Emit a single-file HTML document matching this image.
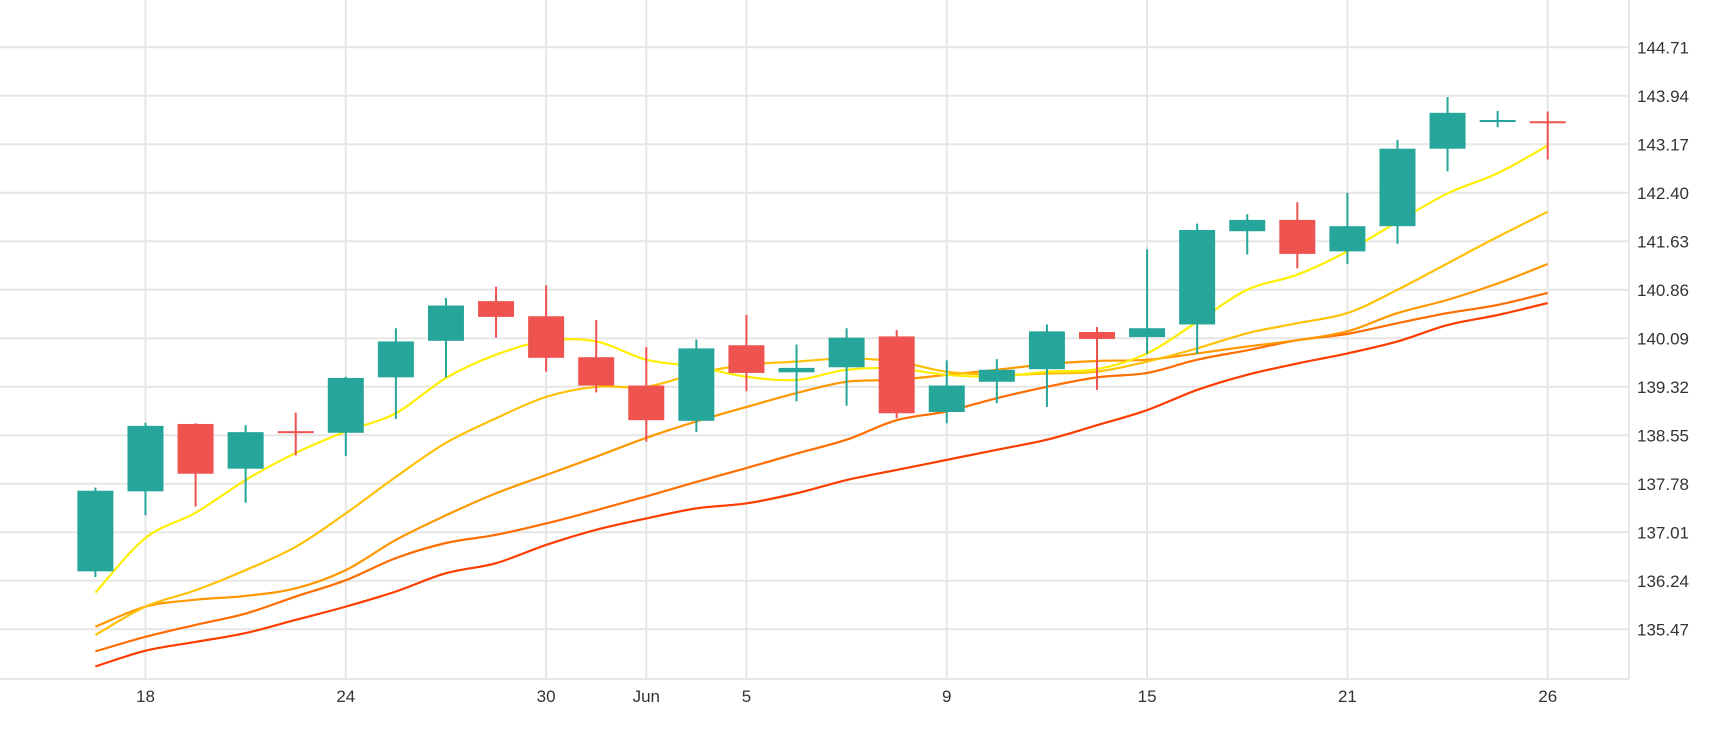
<!DOCTYPE html>
<html><head><meta charset="utf-8"><style>
html,body{margin:0;padding:0;background:#fff;}
svg{display:block;font-family:"Liberation Sans",sans-serif;}
</style></head><body>
<svg id="chart" width="1730" height="730" viewBox="0 0 1730 730" xmlns="http://www.w3.org/2000/svg">
<g id="grid"></g>
<g id="mas"></g>
<g id="candles"></g>
<g id="yaxis"></g>
<g id="xaxis"></g>
</svg>
<script>
const opens  = [136.39,137.66,138.73,138.02,138.60,138.59,139.47,140.05,140.68,140.44,139.79,139.34,138.78,139.98,139.55,139.63,140.12,138.92,139.40,139.60,140.19,140.11,140.31,141.79,141.97,141.47,141.87,143.10,143.53,143.52];
const closes = [137.67,138.70,137.94,138.60,138.59,139.46,140.04,140.61,140.43,139.78,139.34,138.79,139.93,139.54,139.62,140.10,138.90,139.34,139.59,140.20,140.08,140.25,141.81,141.97,141.43,141.87,143.10,143.67,143.54,143.51];
const highs  = [137.72,138.75,138.74,138.71,138.91,139.48,140.25,140.73,140.91,140.93,140.38,139.95,140.07,140.46,139.99,140.25,140.22,139.74,139.76,140.31,140.27,141.50,141.91,142.06,142.25,142.40,143.24,143.92,143.70,143.69];
const lows   = [136.30,137.28,137.42,137.48,138.23,138.22,138.81,139.47,140.10,139.56,139.23,138.45,138.60,139.25,139.09,139.02,138.82,138.74,139.06,139.00,139.27,139.84,139.84,141.42,141.20,141.27,141.59,142.74,143.44,142.93];
const ma1 = [136.05,136.92,137.32,137.84,138.27,138.61,138.90,139.46,139.83,140.05,140.04,139.75,139.64,139.48,139.43,139.59,139.61,139.51,139.48,139.56,139.60,139.85,140.35,140.86,141.10,141.47,141.94,142.39,142.71,143.15];
const ma2 = [135.38,135.83,136.09,136.41,136.78,137.31,137.89,138.43,138.82,139.16,139.32,139.32,139.53,139.67,139.72,139.77,139.72,139.56,139.51,139.53,139.56,139.72,139.93,140.17,140.33,140.49,140.86,141.28,141.70,142.10];
const ma3 = [135.51,135.83,135.94,136.00,136.12,136.41,136.89,137.28,137.63,137.92,138.21,138.51,138.77,139.00,139.22,139.40,139.43,139.51,139.59,139.68,139.73,139.75,139.85,139.96,140.06,140.20,140.49,140.70,140.96,141.27];
const ma4 = [135.12,135.35,135.54,135.72,135.99,136.25,136.60,136.84,136.97,137.15,137.36,137.58,137.81,138.03,138.26,138.48,138.79,138.93,139.14,139.32,139.47,139.54,139.75,139.90,140.06,140.16,140.33,140.49,140.62,140.81];
const ma5 = [134.88,135.13,135.27,135.41,135.62,135.83,136.07,136.36,136.52,136.81,137.05,137.23,137.39,137.47,137.63,137.84,138.00,138.16,138.32,138.48,138.71,138.95,139.27,139.51,139.69,139.85,140.04,140.30,140.46,140.65];
const yTicks = [144.71,143.94,143.17,142.40,141.63,140.86,140.09,139.32,138.55,137.78,137.01,136.24,135.47];
const xTickIdx = [1,5,9,11,13,17,21,25,29];
const xTickLabels = ["18","24","30","Jun","5","9","15","21","26"];

const NS="http://www.w3.org/2000/svg";
const PR=1629, PB=679;
function X(i){return 95.4+50.08*i;}
function Y(v){return 47.3+(144.71-v)/0.77*48.5;}
function mk(tag,attrs,parent){const e=document.createElementNS(NS,tag);for(const k in attrs)e.setAttribute(k,attrs[k]);parent.appendChild(e);return e;}
const grid=document.getElementById('grid');
yTicks.forEach((t,i)=>{
  const l=mk('line',{x1:0,x2:PR,y1:Y(t),y2:Y(t),stroke:'#e6e6e6','stroke-width':2},grid);
  
  
  const tx=mk('text',{x:1637,y:Y(t)+6,'font-size':17,fill:'#333'},document.getElementById('yaxis'));
  tx.textContent=t.toFixed(2);
  
  
});
xTickIdx.forEach((idx,i)=>{
  const l=mk('line',{x1:X(idx),x2:X(idx),y1:0,y2:PB,stroke:'#e6e6e6','stroke-width':2},grid);
  
  
  const tx=mk('text',{x:X(idx),y:702,'font-size':17,fill:'#333','text-anchor':'middle'},document.getElementById('xaxis'));
  tx.textContent=xTickLabels[i];
  
  
});
const rb=mk('line',{x1:PR,x2:PR,y1:0,y2:PB,stroke:'#e6e6e6','stroke-width':2},grid);


const bb=mk('line',{x1:0,x2:PR,y1:PB,y2:PB,stroke:'#e6e6e6','stroke-width':2},grid);



function smooth(vals){
  const p=vals.map((v,i)=>[X(i),Y(v)]);
  let d='M'+p[0][0]+','+p[0][1];
  for(let i=0;i<p.length-1;i++){
    const p0=p[Math.max(0,i-1)],p1=p[i],p2=p[i+1],p3=p[Math.min(p.length-1,i+2)];
    const c1x=p1[0]+(p2[0]-p0[0])/6,c1y=p1[1]+(p2[1]-p0[1])/6;
    const c2x=p2[0]-(p3[0]-p1[0])/6,c2y=p2[1]-(p3[1]-p1[1])/6;
    d+=' C'+c1x+','+c1y+' '+c2x+','+c2y+' '+p2[0]+','+p2[1];
  }
  return d;
}
const mas=document.getElementById('mas');
const maSeries=[[ma5,'#ff3d00','ma-line-5'],[ma4,'#ff6d00','ma-line-4'],[ma3,'#ff9800','ma-line-3'],[ma2,'#ffc107','ma-line-2'],[ma1,'#ffee00','ma-line-1']];
maSeries.forEach(s=>{
  const p=mk('path',{d:smooth(s[0]),fill:'none',stroke:s[1],'stroke-width':2.2},mas);
  
  
});
const cg=document.getElementById('candles');
opens.forEach((o,i)=>{
  const c=closes[i];
  const col=c>=o?'#26a69a':'#ef5350';
  const g=mk('g',{},cg);
  
  
  mk('rect',{x:X(i)-1,y:Y(highs[i]),width:2,height:Y(lows[i])-Y(highs[i]),fill:col},g);
  const top=Math.min(Y(o),Y(c)),h=Math.max(2,Math.abs(Y(o)-Y(c)));
  mk('rect',{x:X(i)-18,y:top-(h===2?1:0),width:36,height:h,fill:col},g);
});
</script>
</body></html>
